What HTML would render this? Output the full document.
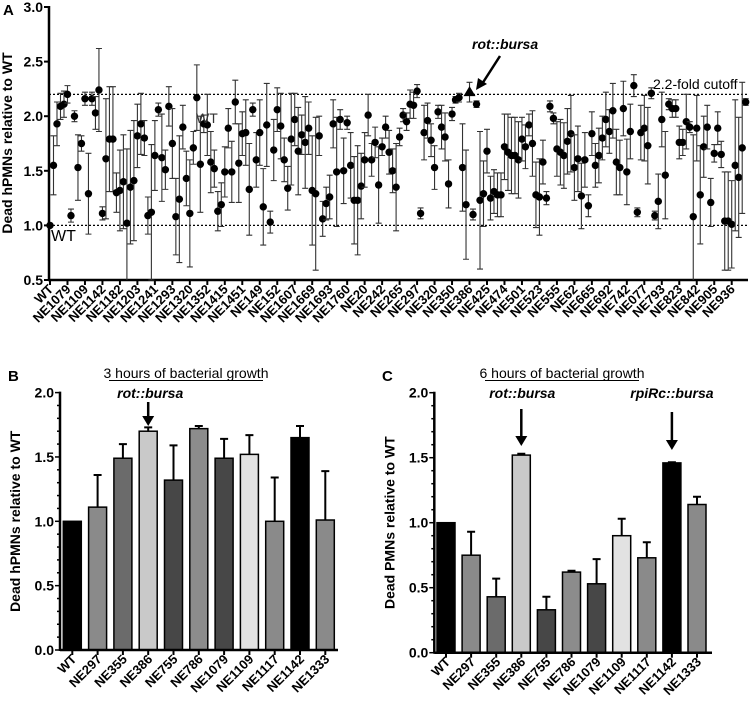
<!DOCTYPE html>
<html><head><meta charset="utf-8"><style>
body{margin:0;background:#fff;}
svg{display:block;font-family:"Liberation Sans",Arial,sans-serif;}
</style></head><body>
<svg id="fig" width="750" height="710" viewBox="0 0 750 710">
<g id="pA"></g>
<g id="pB"></g>
<g id="pC"></g>
</svg>
<script>
const labelsA=["WT","NE1079","NE1109","NE1142","NE1182","NE1203","NE1241","NE1293","NE1320","NE1352","NE1415","NE1451","NE149","NE152","NE1607","NE1669","NE1693","NE1760","NE20","NE242","NE265","NE297","NE320","NE350","NE386","NE425","NE474","NE501","NE523","NE555","NE62","NE665","NE692","NE742","NE077","NE793","NE823","NE842","NE905","NE936"];
const valuesA=[1.0,1.55,1.93,2.09,2.11,2.20,1.09,2.00,1.53,1.75,2.16,1.29,2.16,2.03,2.24,1.11,1.61,1.79,1.79,1.30,1.32,1.40,1.02,1.35,1.41,1.82,1.93,1.80,1.09,1.12,1.64,2.06,1.62,1.51,2.09,1.75,1.08,1.24,1.90,1.43,1.11,1.71,2.17,1.56,1.93,1.92,1.58,1.52,1.13,1.19,1.49,1.89,1.49,2.13,1.57,1.84,1.85,1.33,
2.06,1.60,1.85,1.17,1.92,1.03,1.69,2.06,1.91,1.60,1.34,1.79,1.97,1.68,1.83,1.76,1.89,1.32,1.29,1.82,1.06,1.20,1.26,1.93,1.49,1.97,1.50,1.94,1.55,1.23,1.23,1.36,1.60,2.01,1.60,1.76,1.37,1.72,1.90,1.67,1.50,1.35,1.81,2.01,1.95,2.11,2.10,2.23,1.11,1.85,1.96,1.78,1.53,2.04,1.90,1.81,1.38,2.02,2.15,2.17,1.53,1.19,2.22,1.10,2.11,1.23,1.29,1.68,1.25,1.31,1.28,
1.28,1.72,1.67,1.64,1.64,1.60,1.79,1.72,1.92,1.75,1.28,1.26,1.58,1.25,2.09,1.98,1.70,1.67,1.64,1.77,1.84,1.53,1.61,1.27,1.60,1.18,1.84,1.55,1.64,1.80,1.97,1.86,2.05,1.58,1.53,2.07,1.49,1.86,2.28,1.12,1.85,1.89,1.73,2.21,1.09,1.22,1.97,1.46,2.11,2.07,2.07,1.76,1.76,1.95,1.90,1.08,1.89,1.28,1.72,1.90,1.21,1.66,1.89,1.65,1.04,1.04,1.01,1.55,1.44,1.71,2.13];
const errorsA=[0,0.27,0.2,0.12,0.12,0.08,0.06,0.05,0.3,0.07,0.06,0.37,0.06,0.15,0.38,0.06,0.55,0.48,0.48,0.18,0.37,0.43,0.68,0.52,0.55,0.29,0.28,0.16,0.17,0.62,0.32,0.06,0.4,0.18,0.18,0.32,0.35,0.58,0.2,0.25,0.49,0.15,0.3,0.44,0.08,0.28,0.28,0.17,0.18,0.2,0.23,0.18,0.28,0.2,0.36,0.2,0.3,0.42,
0.06,0.25,0.3,0.35,0.38,0.1,0.28,0.2,0.3,0.2,0.2,0.42,0.24,0.4,0.18,0.42,0.24,0.5,0.7,0.18,0.16,0.15,0.2,0.22,0.5,0.09,0.3,0.06,0.3,0.4,0.5,0.3,0.25,0.19,0.15,0.14,0.35,0.08,0.1,0.2,0.2,0.4,0.08,0.06,0.08,0.13,0.12,0.06,0.05,0.25,0.16,0.15,0.2,0.06,0.2,0.22,0.22,0.06,0.03,0.04,0.4,0.5,0.09,0.05,0.03,0.63,0.3,0.2,0.2,0.2,0.2,
0.2,0.3,0.35,0.35,0.35,0.35,0.2,0.2,0.1,0.3,0.3,0.35,0.2,0.06,0.05,0.05,0.25,0.3,0.3,0.3,0.35,0.3,0.3,0.3,0.25,0.1,0.2,0.2,0.25,0.2,0.25,0.2,0.25,0.3,0.25,0.25,0.3,0.25,0.1,0.04,0.25,0.3,0.35,0.05,0.04,0.25,0.25,0.4,0.05,0.08,0.08,0.15,0.12,0.25,0.05,0.75,0.3,0.45,0.28,0.2,0.22,0.08,0.15,0.12,0.45,0.45,0.4,0.6,0.55,0.6,0.03];
const highlightIndexA=120;
const ticksA=[0.5,1.0,1.5,2.0,2.5,3.0];
const labelsBC=["WT","NE297","NE355","NE386","NE755","NE786","NE1079","NE1109","NE1117","NE1142","NE1333"];
const valuesB=[1.0,1.11,1.49,1.70,1.32,1.72,1.49,1.52,1.00,1.65,1.01];
const errorsB=[0,0.25,0.11,0.03,0.27,0.02,0.15,0.15,0.34,0.09,0.38];
const valuesC=[1.0,0.75,0.43,1.52,0.33,0.62,0.53,0.90,0.73,1.46,1.14];
const errorsC=[0,0.18,0.14,0.01,0.10,0.01,0.19,0.13,0.12,0.005,0.06];
const ticksBC=[0.0,0.5,1.0,1.5,2.0];
const fillsBC=["#000","#8a8a8a","#6b6b6b","#c9c9c9","#474747","#8c8c8c","#474747","#e2e2e2","#8a8a8a","#000","#8a8a8a"];

const NS="http://www.w3.org/2000/svg";
function el(parent,tag,attrs,text){const e=document.createElementNS(NS,tag);for(const k in attrs)e.setAttribute(k,attrs[k]);if(text!==undefined)e.textContent=text;parent.appendChild(e);return e;}

// ---------- Panel A ----------
const A=document.getElementById('pA');
const yA=v=>280-(v-0.5)*109.2;
const x0A=50, stepA=(745.7-50)/(valuesA.length-1), tickStepA=stepA*5;
const xA=i=>x0A+i*stepA;
let t=el(A,'text',{x:3,y:15,'font-size':15,'font-weight':'bold'},'A');

let l=el(A,'line',{x1:49,x2:748,y1:yA(2.2),y2:yA(2.2),stroke:'#000','stroke-width':1.3,'stroke-dasharray':'2,2'});

l=el(A,'line',{x1:49,x2:748,y1:yA(1.0),y2:yA(1.0),stroke:'#000','stroke-width':1.3,'stroke-dasharray':'2,2'});

l=el(A,'line',{x1:49,x2:49,y1:6,y2:281,stroke:'#000','stroke-width':2.5});

l=el(A,'line',{x1:48,x2:748,y1:280,y2:280,stroke:'#000','stroke-width':2.5});

ticksA.forEach(v=>{
  const tk=el(A,'line',{x1:44,x2:49,y1:yA(v),y2:yA(v),stroke:'#000','stroke-width':2});
  
  const tl=el(A,'text',{x:43,y:yA(v)+5,'font-size':14,'font-weight':'bold','text-anchor':'end'},v.toFixed(1));
  
});
t=el(A,'text',{transform:'translate(12,143) rotate(-90)','font-size':14,'font-weight':'bold','text-anchor':'middle'},'Dead hPMNs relative to WT');

labelsA.forEach((lab,k)=>{
  const x=x0A+k*tickStepA;
  const tk=el(A,'line',{x1:x,x2:x,y1:280,y2:285,stroke:'#000','stroke-width':2});
  
  const tl=el(A,'text',{transform:`translate(${x+4},290) rotate(-45)`,'font-size':13,'font-weight':'bold','text-anchor':'end'},lab);
  
});
valuesA.forEach((v,i)=>{
  const x=xA(i), e=errorsA[i];
  if(e>0){
    const top=yA(v+e), bot=Math.min(280,yA(v-e));
    const eb=el(A,'path',{d:`M${x},${top}V${bot}M${x-3},${top}H${x+3}`+(yA(v-e)<=280?`M${x-3},${bot}H${x+3}`:''),stroke:'#333','stroke-width':1.1,fill:'none'});
    
  }
  let m;
  if(i===highlightIndexA){
    const y=yA(v);
    m=el(A,'path',{d:`M${x},${y-6}L${x+6},${y+4}L${x-6},${y+4}Z`,fill:'#000'});
    
  } else {
    m=el(A,'circle',{cx:x,cy:yA(v),r:3.7,fill:'#000'});
    
  }
  
});
t=el(A,'text',{x:51,y:241,'font-size':16},'WT');

t=el(A,'text',{x:196,y:123,'font-size':14,fill:'#333'},'WT');

t=el(A,'text',{x:653,y:89,'font-size':14},'2.2-fold cutoff');

t=el(A,'text',{x:472,y:49,'font-size':14,'font-weight':'bold','font-style':'italic'},'rot::bursa');

l=el(A,'path',{d:'M500,56L482,84',stroke:'#000','stroke-width':2.5,fill:'none'});

l=el(A,'path',{d:'M476,90L478,78L487,84Z',fill:'#000'});


// ---------- Bar panels ----------
function barPanel(G,opt){
  const y=v=>opt.y0-v*opt.scale;
  const xc=i=>opt.xStart+i*opt.step;
  let t=el(G,'text',{x:opt.letterX,y:381,'font-size':15,'font-weight':'bold'},opt.letter);
  
  t=el(G,'text',{x:opt.titleX,y:378,'font-size':14,'text-anchor':'middle'},opt.title);
  
  let l=el(G,'line',{x1:opt.titleX-77,x2:opt.titleX+77,y1:380.5,y2:380.5,stroke:'#000','stroke-width':1});
  
  for(let k=0;k<=20;k++){
    const v=k*0.1, maj=(k%5===0);
    const tk=el(G,'line',{x1:opt.axisX-(maj?5:3),x2:opt.axisX,y1:y(v),y2:y(v),stroke:'#000','stroke-width':1.5});
    
  }
  ticksBC.forEach(v=>{
    const tl=el(G,'text',{x:opt.axisX-6,y:y(v)+5,'font-size':14,'font-weight':'bold','text-anchor':'end'},v.toFixed(1));
    
  });
  t=el(G,'text',{transform:`translate(${opt.axisX-40},${y(1)}) rotate(-90)`,'font-size':14,'font-weight':'bold','text-anchor':'middle'},opt.ytitle);
  
  opt.values.forEach((v,i)=>{
    const x=xc(i), e=opt.errors[i];
    if(e>0.003){
      const eb=el(G,'path',{d:`M${x},${y(v)}V${y(v+e)}M${x-4},${y(v+e)}H${x+4}`,stroke:'#000','stroke-width':2,fill:'none'});
      
    }
    const b=el(G,'rect',{x:x-9,y:y(v),width:18,height:opt.y0-y(v),fill:fillsBC[i],stroke:'#000','stroke-width':1.5});
    
    const tk=el(G,'line',{x1:x,x2:x,y1:opt.y0,y2:opt.y0+5,stroke:'#000','stroke-width':2});
    
    const tl=el(G,'text',{transform:`translate(${x+5},${opt.y0+10}) rotate(-45)`,'font-size':13,'font-weight':'bold','text-anchor':'end'},labelsBC[i]);
    
  });
  l=el(G,'line',{x1:opt.axisX,x2:opt.axisX,y1:y(2)-1,y2:opt.y0+1,stroke:'#000','stroke-width':2.5});
  
  l=el(G,'line',{x1:opt.axisX,x2:opt.xEnd,y1:opt.y0,y2:opt.y0,stroke:'#000','stroke-width':2.5});
  
  opt.arrows.forEach(a=>{
    const x=xc(a.i);
    const lt=el(G,'text',{x:x+a.dx,y:398,'font-size':14,'font-weight':'bold','font-style':'italic','text-anchor':'middle'},a.label);
    
    const ar=el(G,'path',{d:`M${x},${a.y1}V${a.y2-8}`,stroke:'#000','stroke-width':2.5});
    
    const ah=el(G,'path',{d:`M${x-6},${a.y2-10}L${x+6},${a.y2-10}L${x},${a.y2}Z`,fill:'#000'});
    
  });
}
barPanel(document.getElementById('pB'),{letter:'B',letterX:8,title:'3 hours of bacterial growth',titleX:186,
  y0:650,scale:128.7,axisX:60,xStart:72.3,step:25.3,xEnd:338,values:valuesB,errors:errorsB,ytitle:'Dead hPMNs relative to WT',
  arrows:[{i:3,dx:2,label:'rot::bursa',y1:402,y2:426}]});
barPanel(document.getElementById('pC'),{letter:'C',letterX:382,title:'6 hours of bacterial growth',titleX:562,
  y0:652.7,scale:130,axisX:434.3,xStart:446,step:25.1,xEnd:712,values:valuesC,errors:errorsC,ytitle:'Dead PMNs relative to WT',
  arrows:[{i:3,dx:1,label:'rot::bursa',y1:409,y2:446},{i:9,dx:0,label:'rpiRc::bursa',y1:412,y2:450}]});
</script>
</body></html>
